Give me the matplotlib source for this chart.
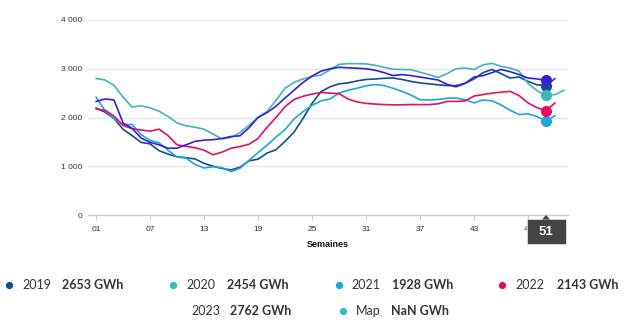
import matplotlib
matplotlib.use("Agg")
import matplotlib.pyplot as plt
from matplotlib.patches import Rectangle, Polygon
import numpy as np

# weekly values (GWh)
y2019 = [2195, 2110, 1980, 1760, 1630, 1490, 1460, 1320, 1250, 1195, 1175, 1150, 1060,
         1000, 955, 925, 980, 1110, 1145, 1270, 1340, 1510, 1700, 1980, 2290, 2530,
         2630, 2690, 2710, 2750, 2780, 2790, 2805, 2810, 2780, 2740, 2710, 2690, 2670,
         2655, 2655, 2700, 2790, 2920, 2985, 2900, 2810, 2830, 2740, 2670, 2653, 2800]
y2020 = [2800, 2770, 2660, 2420, 2215, 2240, 2200, 2130, 2020, 1890, 1830, 1800, 1760,
         1660, 1560, 1590, 1690, 1840, 2000, 2125, 2350, 2600, 2720, 2790, 2840, 2870,
         2980, 3090, 3105, 3105, 3100, 3070, 3030, 2990, 2985, 2980, 2930, 2880, 2820,
         2900, 3000, 3015, 2985, 3080, 3110, 3050, 3015, 2950, 2700, 2550, 2454, 2470, 2560]
y2021 = [2420, 2140, 1980, 1850, 1860, 1650, 1530, 1480, 1330, 1190, 1165, 1040, 965,
         990, 970, 890, 960, 1120, 1280, 1430, 1600, 1750, 1970, 2120, 2250, 2340,
         2380, 2500, 2560, 2600, 2650, 2675, 2655, 2600, 2535, 2460, 2365, 2360, 2370,
         2395, 2400, 2365, 2300, 2360, 2340, 2260, 2150, 2060, 2075, 2020, 1928, 2040]
y2022 = [2175, 2150, 2030, 1840, 1770, 1745, 1720, 1760, 1630, 1440, 1410, 1380, 1330,
         1235, 1290, 1370, 1405, 1450, 1570, 1800, 2000, 2220, 2370, 2435, 2480, 2515,
         2500, 2490, 2380, 2320, 2290, 2275, 2265, 2260, 2260, 2265, 2265, 2265, 2280,
         2330, 2330, 2340, 2440, 2470, 2500, 2520, 2535, 2450, 2300, 2200, 2143, 2300]
y2023 = [2330, 2380, 2360, 1890, 1780, 1580, 1490, 1440, 1370, 1370, 1440, 1510, 1535,
         1545, 1570, 1610, 1625, 1790, 2000, 2100, 2230, 2400, 2560, 2720, 2850, 2950,
         3000, 3030, 3020, 3010, 3000, 2970, 2920, 2860, 2880, 2860, 2830, 2800, 2770,
         2680, 2630, 2700, 2830, 2860, 2920, 2985, 2940, 2880, 2810, 2790, 2762]

series = [("2019", y2019, "#134f8a"), ("2020", y2020, "#3db7bd"),
          ("2021", y2021, "#1aa7e0"), ("2022", y2022, "#e3105f"),
          ("2023", y2023, "#3a1ed8")]
legend_vals = {"2019": "2653 GWh", "2020": "2454 GWh", "2021": "1928 GWh",
               "2022": "2143 GWh", "2023": "2762 GWh", "Map": "NaN GWh"}
sel_week = 51
xticks = [1, 7, 13, 19, 25, 31, 37, 43, 49]
yticks = [0, 1000, 2000, 3000, 4000]

W, H = 624, 327
fig = plt.figure(figsize=(W / 100, H / 100), dpi=100)
ax = fig.add_axes([88 / W, 1 - 215 / H, 480 / W, 195 / H])

for name, vals, col in series:
    wk = np.arange(1, len(vals) + 1)
    ax.plot(wk, vals, color=col, lw=1.2, solid_capstyle="round", zorder=3)
for name, vals, col in series:
    ax.plot(sel_week, vals[sel_week - 1], "o", ms=7, color=col, zorder=5, clip_on=False)

ax.set_xlim(0.11, 53.44)
ax.set_ylim(0, 4000)
ax.set_xticks(xticks)
ax.set_xticklabels(["%02d" % t for t in xticks], fontfamily="Liberation Sans",
                   fontsize=6, color="#333333")
ax.set_yticks(yticks)
ax.set_yticklabels([f"{t:,}".replace(",", " ") for t in yticks],
                   fontfamily="Liberation Sans", fontsize=6, color="#333333")
ax.tick_params(axis="x", length=3.6, width=0.8, color="#cccccc", pad=4.5)
ax.tick_params(axis="y", length=0, pad=4.3)
ax.grid(axis="y", color="#e8e8e8", lw=1)
ax.set_axisbelow(True)
for s in ["top", "right", "left"]:
    ax.spines[s].set_visible(False)
ax.spines["bottom"].set_color("#cccccc")
ax.spines["bottom"].set_linewidth(1)
ax.set_xlabel("Semaines", fontfamily="Liberation Sans", fontweight="bold",
              fontsize=6.5, color="#111111", labelpad=5)

# overlay in pixel coordinates for tooltip and legend
ov = fig.add_axes([0, 0, 1, 1], facecolor="none")
ov.set_xlim(0, W)
ov.set_ylim(H, 0)
ov.axis("off")

px = ax.transData.transform((sel_week, 0))
cx, axis_y = px[0], H - px[1]
ov.add_patch(Rectangle((cx - 19, axis_y + 4), 39, 25, facecolor="#444444",
                       edgecolor="#dddddd", lw=0.6, zorder=10))
ov.add_patch(Polygon([(cx - 4, axis_y + 4.5), (cx + 4, axis_y + 4.5), (cx, axis_y)],
                     closed=True, facecolor="#444444", edgecolor="none", zorder=11))
ov.text(cx, axis_y + 17, str(sel_week), color="white", fontsize=9.5, fontweight="bold",
        fontfamily="Liberation Sans", ha="center", va="center", zorder=12)

# legend
txt_col = "#3b3333"
leg_items = [("2019", "#134f8a", 9, 22, 62, 285),
             ("2020", "#3db7bd", 173, 186, 227, 285),
             ("2021", "#1aa7e0", 339, 351, 392, 285),
             ("2022", "#e3105f", 502, 515, 557, 285),
             ("2023", None, None, 191, 230, 311),
             ("Map", "#3db7bd", 343, 356, 391, 311)]
for name, col, dx, tx, vx, yy in leg_items:
    if col is not None:
        ov.plot(dx, yy, "o", ms=4.2, color=col)
    ov.text(tx, yy, name, fontfamily="Lato", fontsize=9, color=txt_col,
            ha="left", va="center")
    ov.text(vx, yy, legend_vals[name], fontfamily="Lato", fontweight="bold",
            fontsize=9, color=txt_col, ha="left", va="center")

fig.savefig("out.png", dpi=100)
